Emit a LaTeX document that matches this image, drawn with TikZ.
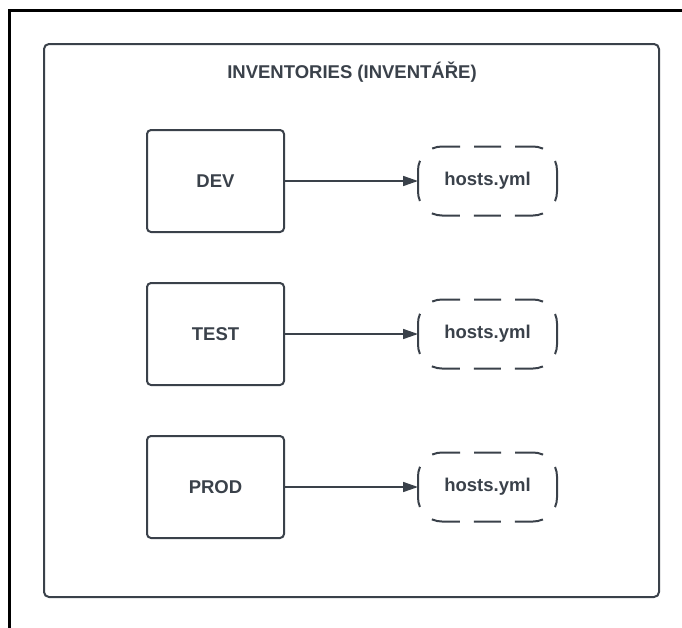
\documentclass[tikz,border=0pt]{standalone}
\usepackage{fontspec}
\setmainfont{Liberation Sans}
\usetikzlibrary{arrows.meta}
\definecolor{inkgray}{HTML}{3A414A}
\begin{document}
\begin{tikzpicture}[x=1pt,y=-1pt,
  frameline/.style={draw=black,line width=2.4pt},
  groupbox/.style={draw=inkgray,line width=2pt,rounded corners=5pt},
  stagebox/.style={draw=inkgray,line width=2pt,rounded corners=4pt,
    minimum width=137pt,minimum height=102pt,inner sep=0pt,outer sep=0pt,
    text=inkgray,font=\bfseries\fontsize{18.5}{21}\selectfont},
  filenode/.style={minimum width=139pt,minimum height=69pt,inner sep=0pt,outer sep=0pt,
    text=inkgray,font=\bfseries\fontsize{18.5}{21}\selectfont},
  filedash/.style={draw=inkgray,line width=2pt,rounded corners=24pt,
    dash pattern=on 27pt off 14pt on 28.3pt off 17.6pt on 40.6pt off 17.6pt on 28.3pt off 14pt,
    dash phase=13.5pt},
  link/.style={draw=inkgray,line width=1.6pt,-{Triangle[length=15pt,width=10pt]}},
  titletext/.style={text=inkgray,font=\bfseries\fontsize{18.5}{21}\selectfont}
]
\useasboundingbox (0,0) rectangle (682,627);

% page frame: only the top and left edges fall inside the view
\coordinate (fbl) at (9.5,640);
\coordinate (ftl) at (9.5,10.5);
\coordinate (ftr) at (700,10.5);
\draw[frameline] (fbl) -- (ftl) -- (ftr);

% container
\draw[groupbox] (44,44) rectangle (659,597);
\node[titletext] (title) at (352,72) {INVENTORIES (INVENTÁŘE)};

% environments
\node[stagebox] (dev)  at (215.5,181) {DEV};
\node[stagebox] (test) at (215.5,334) {TEST};
\node[stagebox] (prod) at (215.5,487) {PROD};

% inventory files: dashed outline traced from the top middle
\node[filenode] (devfile)  at (487.5,181) {hosts.yml};
\node[filenode] (testfile) at (487.5,334) {hosts.yml};
\node[filenode] (prodfile) at (487.5,487) {hosts.yml};
\foreach \f in {devfile,testfile,prodfile}
  \draw[filedash] (\f.north) -- (\f.north east) -- (\f.south east)
    -- (\f.south west) -- (\f.north west) -- (\f.north);

% connectors
\draw[link] (dev)  -- (devfile);
\draw[link] (test) -- (testfile);
\draw[link] (prod) -- (prodfile);
\end{tikzpicture}
\end{document}
